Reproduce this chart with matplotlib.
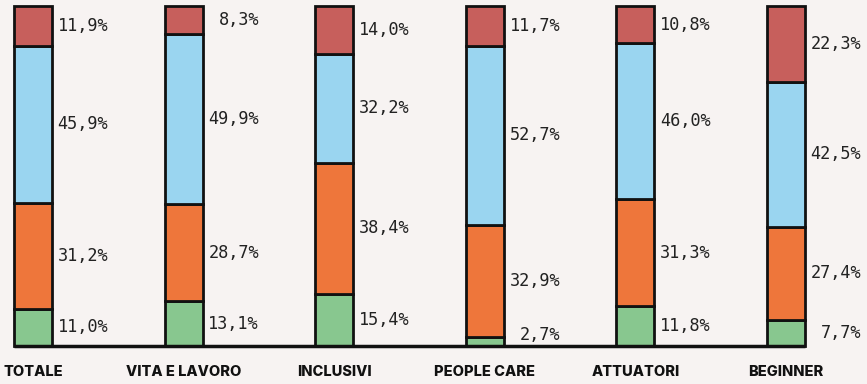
import matplotlib
matplotlib.use('Agg')
import matplotlib.pyplot as plt
import numpy as np

categories = ['TOTALE', 'VITA E LAVORO', 'INCLUSIVI', 'PEOPLE CARE', 'ATTUATORI', 'BEGINNER']
green = [11.0, 13.1, 15.4, 2.7, 11.8, 7.7]
orange = [31.2, 28.7, 38.4, 32.9, 31.3, 27.4]
blue = [45.9, 49.9, 32.2, 52.7, 46.0, 42.5]
red = [11.9, 8.3, 14.0, 11.7, 10.8, 22.3]

colors = ['#88c78f', '#ee763b', '#9ad5f0', '#c75f5c']
bg = '#f7f3f2'

W, H = 867, 384
fig = plt.figure(figsize=(W / 100, H / 100), dpi=100, facecolor=bg)
ax = fig.add_axes([14 / W, 38 / H, (W - 14) / W, 340 / H])
ax.set_facecolor(bg)

x = np.arange(len(categories))
bw = 0.252
ax.set_xlim(-bw / 2, -bw / 2 + (W - 14) / 150.6)
ax.set_ylim(0, 100)

bottom = np.zeros(len(categories))
for series, c in zip([green, orange, blue, red], colors):
    vals = np.array(series)
    ax.bar(x, vals, bw, bottom=bottom, color=c, edgecolor='#111111',
           linewidth=2, clip_on=False, zorder=2)
    for xi, b, v in zip(x, bottom, vals):
        yc = max(b + v / 2, 3.3)
        ax.text(xi + 0.5, yc, ('%.1f%%' % v).replace('.', ','),
                ha='right', va='center', fontsize=12.2,
                family='DejaVu Sans Mono', color='#222222')
    bottom = bottom + vals

ax.hlines(0, x[0] - bw / 2, x[-1] + bw / 2, color='#111111', linewidth=2.5,
          clip_on=False, zorder=3)

for xi, cat in zip(x, categories):
    ax.text(xi, -7.6, cat, ha='center', va='center', fontsize=10.5,
            family='Inter', fontweight='heavy', color='#111111')

for s in ax.spines.values():
    s.set_visible(False)
ax.set_xticks([])
ax.set_yticks([])

fig.savefig('out.png', dpi=100, facecolor=bg)
